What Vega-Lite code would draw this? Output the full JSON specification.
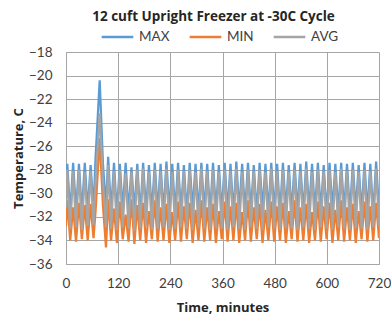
{
"$schema": "https://vega.github.io/schema/vega-lite/v6.json",
"width": 313, "height": 212,
"autosize": {"type": "none"},
"padding": {"left": 66, "top": 52, "right": 12, "bottom": 52},
"background": "white",
"config": {"font": "Lato", "view": {"stroke": null}},
"title": {"text": "12 cuft Upright  Freezer at -30C Cycle", "fontSize": 13.5, "fontWeight": "bold", "font": "Open Sans", "color": "#262626", "anchor": "middle", "frame": "group", "offset": -3.5, "dx": -9},
"data": {"values": [
{"t":0,"MAX":-29.5,"MIN":-32.8,"AVG":-31.2},
{"t":3,"MAX":-27.5,"MIN":-30.6,"AVG":-28.0},
{"t":9.7,"MAX":-31.8,"MIN":-34.0,"AVG":-33.0},
{"t":16.4,"MAX":-27.4,"MIN":-31.2,"AVG":-28.1},
{"t":23.1,"MAX":-31.6,"MIN":-34.1,"AVG":-32.9},
{"t":29.8,"MAX":-27.5,"MIN":-30.8,"AVG":-28.0},
{"t":36.5,"MAX":-31.7,"MIN":-33.9,"AVG":-33.1},
{"t":43.2,"MAX":-27.4,"MIN":-31.0,"AVG":-28.2},
{"t":49.9,"MAX":-31.5,"MIN":-34.0,"AVG":-32.8},
{"t":56.6,"MAX":-27.6,"MIN":-30.9,"AVG":-28.1},
{"t":63.3,"MAX":-31.4,"MIN":-33.8,"AVG":-32.7},
{"t":68,"MAX":-27.0,"MIN":-31.5,"AVG":-29.0},
{"t":77.5,"MAX":-20.4,"MIN":-25.3,"AVG":-23.2},
{"t":85,"MAX":-27.5,"MIN":-31.0,"AVG":-29.0},
{"t":92,"MAX":-31.2,"MIN":-34.6,"AVG":-32.8},
{"t":97,"MAX":-26.9,"MIN":-30.5,"AVG":-27.6},
{"t":103.7,"MAX":-31.6,"MIN":-34.0,"AVG":-33.0},
{"t":110.4,"MAX":-27.4,"MIN":-31.3,"AVG":-28.1},
{"t":117.1,"MAX":-31.8,"MIN":-34.2,"AVG":-33.1},
{"t":123.8,"MAX":-27.5,"MIN":-30.7,"AVG":-28.0},
{"t":130.5,"MAX":-31.5,"MIN":-33.9,"AVG":-32.9},
{"t":137.2,"MAX":-27.4,"MIN":-31.8,"AVG":-28.3},
{"t":143.9,"MAX":-31.7,"MIN":-34.1,"AVG":-33.0},
{"t":150.6,"MAX":-27.8,"MIN":-30.5,"AVG":-28.2},
{"t":157.3,"MAX":-31.6,"MIN":-34.3,"AVG":-33.2},
{"t":164,"MAX":-27.5,"MIN":-31.0,"AVG":-28.0},
{"t":170.7,"MAX":-31.9,"MIN":-34.0,"AVG":-33.0},
{"t":177.4,"MAX":-27.4,"MIN":-30.8,"AVG":-27.9},
{"t":184.1,"MAX":-31.5,"MIN":-34.2,"AVG":-32.8},
{"t":190.8,"MAX":-27.6,"MIN":-31.5,"AVG":-28.2},
{"t":197.5,"MAX":-31.7,"MIN":-33.9,"AVG":-33.1},
{"t":204.2,"MAX":-27.4,"MIN":-30.6,"AVG":-28.0},
{"t":210.9,"MAX":-31.6,"MIN":-34.1,"AVG":-33.0},
{"t":217.6,"MAX":-27.5,"MIN":-31.2,"AVG":-28.1},
{"t":224.3,"MAX":-31.8,"MIN":-34.0,"AVG":-32.9},
{"t":231,"MAX":-27.3,"MIN":-30.9,"AVG":-27.9},
{"t":237.7,"MAX":-31.5,"MIN":-34.2,"AVG":-33.1},
{"t":244.4,"MAX":-27.5,"MIN":-31.6,"AVG":-28.2},
{"t":251.1,"MAX":-31.7,"MIN":-34.0,"AVG":-33.0},
{"t":257.8,"MAX":-27.4,"MIN":-30.7,"AVG":-28.0},
{"t":264.5,"MAX":-31.6,"MIN":-34.1,"AVG":-32.9},
{"t":271.2,"MAX":-27.6,"MIN":-31.1,"AVG":-28.1},
{"t":277.9,"MAX":-31.8,"MIN":-33.9,"AVG":-33.0},
{"t":284.6,"MAX":-27.4,"MIN":-30.8,"AVG":-28.0},
{"t":291.3,"MAX":-31.5,"MIN":-34.2,"AVG":-33.1},
{"t":298,"MAX":-27.5,"MIN":-31.4,"AVG":-28.2},
{"t":304.7,"MAX":-31.7,"MIN":-34.0,"AVG":-32.9},
{"t":311.4,"MAX":-27.4,"MIN":-30.6,"AVG":-27.9},
{"t":318.1,"MAX":-31.6,"MIN":-34.1,"AVG":-33.0},
{"t":324.8,"MAX":-27.5,"MIN":-31.2,"AVG":-28.1},
{"t":331.5,"MAX":-31.8,"MIN":-34.0,"AVG":-33.1},
{"t":338.2,"MAX":-27.4,"MIN":-30.9,"AVG":-28.0},
{"t":344.9,"MAX":-31.5,"MIN":-34.2,"AVG":-32.9},
{"t":351.6,"MAX":-27.6,"MIN":-31.5,"AVG":-28.2},
{"t":358.3,"MAX":-31.7,"MIN":-33.9,"AVG":-33.0},
{"t":365,"MAX":-27.4,"MIN":-30.7,"AVG":-28.0},
{"t":371.7,"MAX":-31.6,"MIN":-34.1,"AVG":-33.1},
{"t":378.4,"MAX":-27.5,"MIN":-31.1,"AVG":-28.1},
{"t":385.1,"MAX":-31.8,"MIN":-34.0,"AVG":-32.9},
{"t":391.8,"MAX":-27.3,"MIN":-30.8,"AVG":-27.9},
{"t":398.5,"MAX":-31.5,"MIN":-34.2,"AVG":-33.0},
{"t":405.2,"MAX":-27.5,"MIN":-31.6,"AVG":-28.2},
{"t":411.9,"MAX":-31.7,"MIN":-34.0,"AVG":-33.1},
{"t":418.6,"MAX":-27.4,"MIN":-30.6,"AVG":-28.0},
{"t":425.3,"MAX":-31.6,"MIN":-34.1,"AVG":-32.9},
{"t":432,"MAX":-27.6,"MIN":-31.2,"AVG":-28.1},
{"t":438.7,"MAX":-31.8,"MIN":-33.9,"AVG":-33.0},
{"t":445.4,"MAX":-27.4,"MIN":-30.9,"AVG":-28.0},
{"t":452.1,"MAX":-31.5,"MIN":-34.2,"AVG":-33.1},
{"t":458.8,"MAX":-27.5,"MIN":-31.4,"AVG":-28.2},
{"t":465.5,"MAX":-31.7,"MIN":-34.0,"AVG":-32.9},
{"t":472.2,"MAX":-27.4,"MIN":-30.7,"AVG":-27.9},
{"t":478.9,"MAX":-31.6,"MIN":-34.1,"AVG":-33.0},
{"t":485.6,"MAX":-27.5,"MIN":-31.1,"AVG":-28.1},
{"t":492.3,"MAX":-31.8,"MIN":-34.0,"AVG":-33.1},
{"t":499,"MAX":-27.4,"MIN":-30.8,"AVG":-28.0},
{"t":505.7,"MAX":-31.5,"MIN":-34.2,"AVG":-32.9},
{"t":512.4,"MAX":-27.6,"MIN":-31.5,"AVG":-28.2},
{"t":519.1,"MAX":-31.7,"MIN":-33.9,"AVG":-33.0},
{"t":525.8,"MAX":-27.4,"MIN":-30.6,"AVG":-28.0},
{"t":532.5,"MAX":-31.6,"MIN":-34.1,"AVG":-33.1},
{"t":539.2,"MAX":-27.5,"MIN":-31.2,"AVG":-28.1},
{"t":545.9,"MAX":-31.8,"MIN":-34.0,"AVG":-32.9},
{"t":552.6,"MAX":-27.3,"MIN":-30.9,"AVG":-27.9},
{"t":559.3,"MAX":-31.5,"MIN":-34.2,"AVG":-33.0},
{"t":566,"MAX":-27.5,"MIN":-31.6,"AVG":-28.2},
{"t":572.7,"MAX":-31.7,"MIN":-34.0,"AVG":-33.1},
{"t":579.4,"MAX":-27.4,"MIN":-30.7,"AVG":-28.0},
{"t":586.1,"MAX":-31.6,"MIN":-34.1,"AVG":-32.9},
{"t":592.8,"MAX":-27.6,"MIN":-31.1,"AVG":-28.1},
{"t":599.5,"MAX":-31.8,"MIN":-33.9,"AVG":-33.0},
{"t":606.2,"MAX":-27.4,"MIN":-30.8,"AVG":-28.0},
{"t":612.9,"MAX":-31.5,"MIN":-34.2,"AVG":-33.1},
{"t":619.6,"MAX":-27.5,"MIN":-31.4,"AVG":-28.2},
{"t":626.3,"MAX":-31.7,"MIN":-34.0,"AVG":-32.9},
{"t":633,"MAX":-27.4,"MIN":-30.6,"AVG":-27.9},
{"t":639.7,"MAX":-31.6,"MIN":-34.1,"AVG":-33.0},
{"t":646.4,"MAX":-27.5,"MIN":-31.2,"AVG":-28.1},
{"t":653.1,"MAX":-31.8,"MIN":-34.0,"AVG":-33.1},
{"t":659.8,"MAX":-27.4,"MIN":-30.9,"AVG":-28.0},
{"t":666.5,"MAX":-31.5,"MIN":-34.2,"AVG":-32.9},
{"t":673.2,"MAX":-27.6,"MIN":-31.5,"AVG":-28.2},
{"t":679.9,"MAX":-31.7,"MIN":-33.9,"AVG":-33.0},
{"t":686.6,"MAX":-27.4,"MIN":-30.7,"AVG":-28.0},
{"t":693.3,"MAX":-31.6,"MIN":-34.1,"AVG":-33.1},
{"t":700,"MAX":-27.5,"MIN":-31.1,"AVG":-28.1},
{"t":706.7,"MAX":-31.8,"MIN":-34.0,"AVG":-32.9},
{"t":713.4,"MAX":-27.3,"MIN":-30.8,"AVG":-27.9},
{"t":720,"MAX":-31.5,"MIN":-33.8,"AVG":-32.8}
]},
"transform": [{"fold": ["MAX", "MIN", "AVG"], "as": ["series", "value"]}],
"mark": {"type": "line", "strokeWidth": 2.25, "clip": true},
"encoding": {
  "x": {"field": "t", "type": "quantitative", "scale": {"domain": [0, 720], "nice": false},
        "axis": {"values": [0,120,240,360,480,600,720], "title": "Time, minutes", "titleFont": "Open Sans", "titleFontSize": 13, "titleFontWeight": "bold", "titleColor": "#262626", "titlePadding": 12,
                 "labelFontSize": 13.5, "labelColor": "#404040", "labelPadding": 12, "ticks": false, "domainColor": "#A6A6A6", "gridColor": "#A6A6A6", "gridWidth": 1, "labelFlush": false}},
  "y": {"field": "value", "type": "quantitative", "scale": {"domain": [-36, -18], "nice": false},
        "axis": {"values": [-36,-34,-32,-30,-28,-26,-24,-22,-20,-18], "title": "Temperature, C", "titleFont": "Open Sans", "titleFontSize": 13, "titleFontWeight": "bold", "titleColor": "#262626", "titlePadding": 3,
                 "labelFontSize": 13.5, "labelColor": "#404040", "labelPadding": 14, "ticks": false, "domainColor": "#A6A6A6", "gridColor": "#A6A6A6", "gridWidth": 1}},
  "color": {"field": "series", "type": "nominal", "sort": ["MAX", "MIN", "AVG"],
            "scale": {"domain": ["MAX", "MIN", "AVG"], "range": ["#5B9BD5", "#ED7D31", "#A5A5A5"]},
            "legend": {"orient": "none", "direction": "horizontal", "legendX": 34, "legendY": -32.5, "title": null,
                       "symbolType": "stroke", "symbolSize": 1000, "symbolStrokeWidth": 2.5, "labelFontSize": 13.5, "labelColor": "#404040", "labelOffset": 4, "columnPadding": 14}}
}
}
